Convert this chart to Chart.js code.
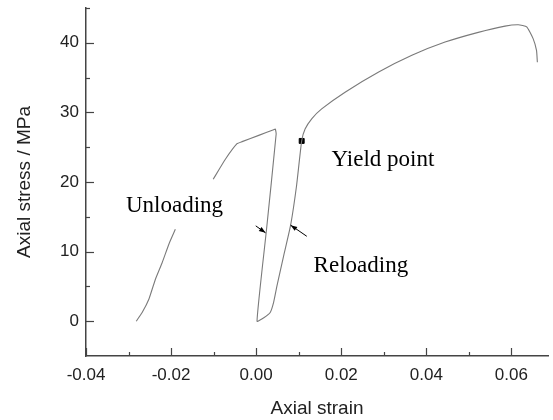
<!DOCTYPE html>
<html>
<head>
<meta charset="utf-8">
<script src="https://cdn.jsdelivr.net/npm/chart.js@4.4.1/dist/chart.umd.min.js"></script>
<style>
  html, body { margin: 0; padding: 0; background: #fff; }
  #wrap { width: 553px; height: 420px; }
</style>
</head>
<body>
<div id="wrap"><canvas id="stressChart"></canvas></div>
<script>
// stress-strain curve (null = gap where the label sits)
const strain = [-0.0282, -0.0268, -0.0252, -0.0237, -0.0221, -0.0205, -0.0190, null,
  -0.0101, -0.0072, -0.0045, -0.0033, 0.0006, 0.0041, 0.0045, 0.0047,
  0.0024, 0.0002,
  0.0018, 0.0033, 0.0041, 0.0049, 0.0065, 0.0081, 0.0095, 0.0107,
  0.0115, 0.0131, 0.0154, 0.0209, 0.0288, 0.0366, 0.0444, 0.0522, 0.0585, 0.0616, 0.0636, 0.0651, 0.0659, 0.0661];
const stress = [0, 1.25, 3.2, 6.0, 8.4, 11.1, 13.2, null,
  20.4, 23.3, 25.5, 25.8, 26.7, 27.5, 27.6, 26.9,
  13.0, 0,
  0.5, 1.25, 2.7, 5.1, 9.5, 13.8, 19.5, 25.9,
  27.6, 29.1, 30.5, 32.9, 35.8, 38.2, 40.1, 41.5, 42.4, 42.6, 42.3, 40.6, 38.9, 37.2];

const yieldStrain = [0.0107];
const yieldStress = [25.9];

// axis ticks
const xTickValues = [-0.04, -0.03, -0.02, -0.01, 0.00, 0.01, 0.02, 0.03, 0.04, 0.05, 0.06];
const xTickLabels = ["-0.04", "", "-0.02", "", "0.00", "", "0.02", "", "0.04", "", "0.06"];
const yTickValues = [0, 5, 10, 15, 20, 25, 30, 35, 40];
const yTickLabels = ["0", "", "10", "", "20", "", "30", "", "40"];

// text labels (left x, baseline y, in data units) and arrows (from -> to)
const notes = [
  { text: "Unloading", x: -0.0306, y: 15.7 },
  { text: "Yield point", x: 0.0177, y: 22.3 },
  { text: "Reloading", x: 0.0135, y: 7.0 }
];
const arrows = [
  { x1: -0.0001, y1: 13.7, x2: 0.0022, y2: 12.7 },
  { x1: 0.0119, y1: 12.2, x2: 0.0081, y2: 13.8 }
];

const axisColor = "#444";

const curve = strain.map((x, i) => (x === null ? { x: null, y: null } : { x: x, y: stress[i] }));
const yieldPts = yieldStrain.map((x, i) => ({ x: x, y: yieldStress[i] }));

// inward ticks + annotations
const extrasPlugin = {
  id: "extras",
  afterDraw(chart) {
    const ctx = chart.ctx;
    const xs = chart.scales.x, ys = chart.scales.y;
    const area = chart.chartArea;
    ctx.save();
    ctx.strokeStyle = axisColor;
    ctx.lineWidth = 1.2;
    xTickValues.forEach((v, i) => {
      const px = Math.round(xs.getPixelForValue(v)) + 0.5;
      const len = xTickLabels[i] ? 8 : 4;
      ctx.beginPath();
      ctx.moveTo(px, area.bottom);
      ctx.lineTo(px, area.bottom - len);
      ctx.stroke();
    });
    yTickValues.forEach((v, i) => {
      const py = Math.round(ys.getPixelForValue(v)) + 0.5;
      const len = yTickLabels[i] ? 8 : 4;
      ctx.beginPath();
      ctx.moveTo(area.left, py);
      ctx.lineTo(area.left + len, py);
      ctx.stroke();
    });
    // small cap at the top end of the y axis
    ctx.beginPath();
    ctx.moveTo(area.left, area.top + 0.5);
    ctx.lineTo(area.left + 4, area.top + 0.5);
    ctx.stroke();

    ctx.fillStyle = "#000";
    ctx.font = "23px 'Liberation Serif', 'Times New Roman', serif";
    ctx.textBaseline = "alphabetic";
    ctx.textAlign = "left";
    notes.forEach(n => {
      ctx.fillText(n.text, xs.getPixelForValue(n.x), ys.getPixelForValue(n.y));
    });

    ctx.strokeStyle = "#000";
    ctx.lineWidth = 1;
    arrows.forEach(a => {
      const x1 = xs.getPixelForValue(a.x1), y1 = ys.getPixelForValue(a.y1);
      const x2 = xs.getPixelForValue(a.x2), y2 = ys.getPixelForValue(a.y2);
      const ang = Math.atan2(y2 - y1, x2 - x1);
      ctx.beginPath();
      ctx.moveTo(x1, y1);
      ctx.lineTo(x2, y2);
      ctx.stroke();
      ctx.beginPath();
      ctx.moveTo(x2, y2);
      ctx.lineTo(x2 - 7 * Math.cos(ang - 0.35), y2 - 7 * Math.sin(ang - 0.35));
      ctx.lineTo(x2 - 7 * Math.cos(ang + 0.35), y2 - 7 * Math.sin(ang + 0.35));
      ctx.closePath();
      ctx.fill();
    });
    ctx.restore();
  }
};

new Chart(document.getElementById("stressChart"), {
  type: "line",
  data: {
    datasets: [
      {
        data: curve,
        borderColor: "#7a7a7a",
        borderWidth: 1.1,
        pointRadius: 0,
        tension: 0.15,
        spanGaps: false
      },
      {
        data: yieldPts,
        showLine: false,
        pointStyle: "rect",
        pointRadius: 3.5,
        backgroundColor: "#000",
        borderColor: "#000"
      }
    ]
  },
  options: {
    responsive: true,
    maintainAspectRatio: false,
    animation: false,
    layout: { padding: { top: 8, right: 0, bottom: 0, left: 0 } },
    plugins: { legend: { display: false }, tooltip: { enabled: false } },
    scales: {
      x: {
        type: "linear",
        min: -0.04,
        max: 0.0686,
        afterBuildTicks: s => { s.ticks = xTickValues.map(v => ({ value: v })); },
        afterFit: s => { s.height = 64; s.paddingLeft = 0; s.paddingRight = 0; },
        grid: { display: true, drawOnChartArea: false, drawTicks: false },
        border: { display: true, color: axisColor, width: 1.5 },
        ticks: {
          autoSkip: false,
          maxRotation: 0,
          padding: 9,
          color: "#222",
          font: { family: "'Liberation Sans', Arial, sans-serif", size: 17 },
          callback: (v, i) => xTickLabels[i]
        },
        title: {
          display: true,
          text: "Axial strain",
          color: "#222",
          font: { family: "'Liberation Sans', Arial, sans-serif", size: 19 },
          padding: { top: 4, bottom: 0 }
        }
      },
      y: {
        type: "linear",
        min: -5,
        max: 45,
        afterBuildTicks: s => { s.ticks = yTickValues.map(v => ({ value: v })); },
        afterFit: s => { s.width = 86; s.paddingTop = 0; s.paddingBottom = 0; },
        grid: { display: true, drawOnChartArea: false, drawTicks: false },
        border: { display: true, color: axisColor, width: 1.5 },
        ticks: {
          autoSkip: false,
          padding: 7,
          color: "#222",
          font: { family: "'Liberation Sans', Arial, sans-serif", size: 17 },
          callback: (v, i) => yTickLabels[i]
        },
        title: {
          display: true,
          text: "Axial stress / MPa",
          color: "#222",
          font: { family: "'Liberation Sans', Arial, sans-serif", size: 19 },
          padding: { top: 13, bottom: 0 }
        }
      }
    }
  },
  plugins: [extrasPlugin]
});
</script>
</body>
</html>
